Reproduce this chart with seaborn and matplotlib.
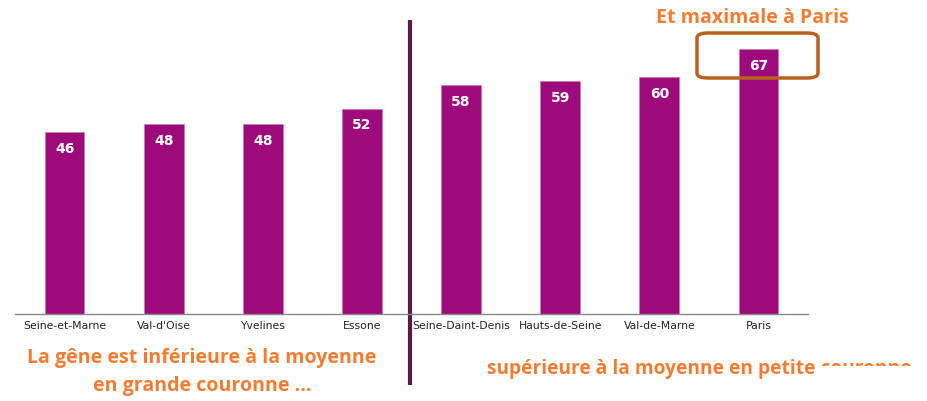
import matplotlib
matplotlib.use("Agg")
import matplotlib.pyplot as plt
import seaborn as sns
import pandas as pd
from matplotlib.patches import FancyBboxPatch, Rectangle
from matplotlib.transforms import blended_transform_factory

departements = ["Seine-et-Marne", "Val-d'Oise", "Yvelines", "Essone",
                "Seine-Daint-Denis", "Hauts-de-Seine", "Val-de-Marne", "Paris"]
valeurs = [46, 48, 48, 52, 58, 59, 60, 67]

df = pd.DataFrame({"dep": departements, "val": valeurs})

sns.set_style("white")
plt.rcParams["font.family"] = ["DejaVu Sans"]

W, H = 927, 401
fig = plt.figure(figsize=(W / 100, H / 100), dpi=100)
ax = fig.add_axes([15 / W, (H - 314) / H, (808 - 15) / W, 314 / H])

bar_color = "#9c0a7c"
sns.barplot(data=df, x="dep", y="val", color=bar_color, width=0.4,
            saturation=1, ax=ax, edgecolor="#c77bb6", linewidth=0.6)

ax.set_ylim(0, 79.5)
ax.set_xlim(-0.5, len(departements) - 0.5)
ax.set_xlabel("")
ax.set_ylabel("")
ax.set_yticks([])
for s in ["top", "right", "left"]:
    ax.spines[s].set_visible(False)
ax.spines["bottom"].set_color("#888888")
ax.spines["bottom"].set_linewidth(1.0)
ax.set_xticks([i - 0.5 for i in range(len(departements) + 1)], minor=True)
ax.tick_params(axis="x", which="minor", length=4, color="#888888", width=1.0, direction="out")
ax.tick_params(axis="x", which="major", length=0, labelsize=7.8, colors="#222222", pad=5)

for i, v in enumerate(valeurs):
    ax.text(i, v - 4.2, f"{v}", ha="center", va="center", color="white",
            fontsize=10, fontweight="bold")

# vertical separator
trans = blended_transform_factory(ax.transData, fig.transFigure)
ax.plot([3.48, 3.48], [1 - 20 / H, 1 - 385 / H], transform=trans,
        color="#5a1848", linewidth=3, clip_on=False, solid_capstyle="butt")

orange = "#f07d32"
tfont = ["Open Sans", "DejaVu Sans"]
fs = 14.1
fig.text(202 / W, 1 - 358 / H, "La gêne est inférieure à la moyenne",
         ha="center", va="center", color=orange, fontsize=fs,
         fontweight="bold", family=tfont)
fig.text(202 / W, 1 - 386 / H, "en grande couronne …",
         ha="center", va="center", color=orange, fontsize=fs,
         fontweight="bold", family=tfont)
fig.text(487 / W, 1 - 369 / H, "supérieure à la moyenne en petite couronne",
         ha="left", va="center", color=orange, fontsize=13.8,
         fontweight="bold", family=tfont)
fig.patches.append(Rectangle((820 / W, 0), 1 - 820 / W, 1 - 366 / H,
                             transform=fig.transFigure, facecolor="white",
                             edgecolor="none", zorder=10))
fig.text(752 / W, 1 - 18 / H, "Et maximale à Paris",
         ha="center", va="center", color=orange, fontsize=fs,
         fontweight="bold", family=tfont)

box = FancyBboxPatch((697 / W, 1 - 78 / H), (818 - 697) / W, (78 - 33) / H,
                     boxstyle="round,pad=0,rounding_size=0.012",
                     transform=fig.transFigure, facecolor="none",
                     edgecolor="#b9601f", linewidth=2.5, zorder=5)
fig.patches.append(box)

fig.savefig("out.png", dpi=100)
